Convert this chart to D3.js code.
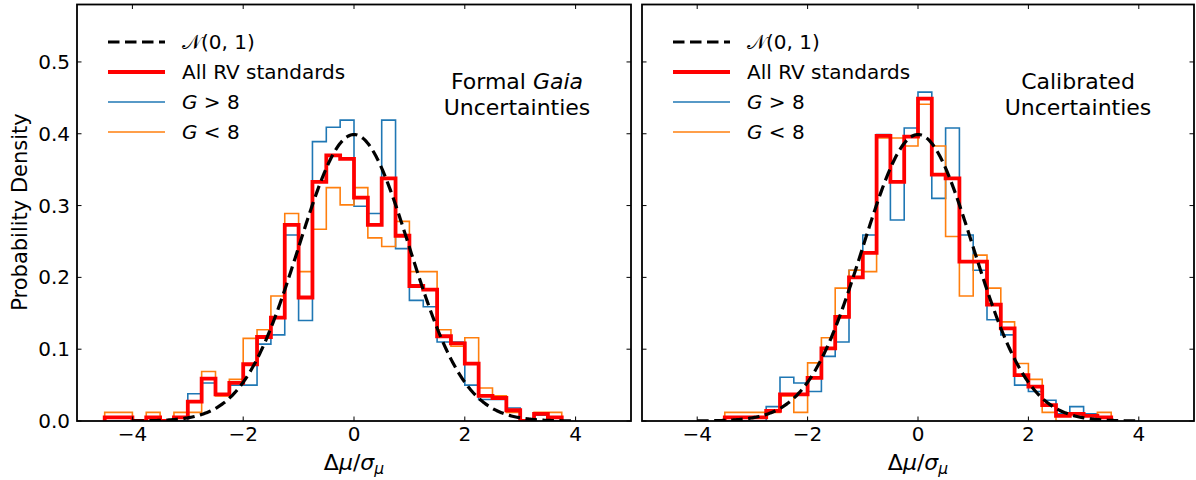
<!DOCTYPE html>
<html>
<head>
<meta charset="utf-8">
<script src="https://cdn.jsdelivr.net/npm/d3@7/dist/d3.min.js"></script>
<style>
  html, body { margin: 0; padding: 0; background: #fff; }
  svg { display: block; font-family: "DejaVu Sans", sans-serif; }
</style>
</head>
<body>
<svg id="chart" width="1196" height="480"></svg>
<script>
// Histogram bins are 0.25 wide; each panel lists its first bin edge.
const binWidth = 0.25;
const leftFirstEdge = -4.5;
const rightFirstEdge = -3.5;

// Formal Gaia uncertainties (probability density per bin)
const leftAll = [0.005, 0.005, 0, 0.005, 0, 0.005, 0.027, 0.059, 0.037, 0.053,
  0.079, 0.117, 0.144, 0.273, 0.172, 0.333, 0.370, 0.365, 0.311, 0.273,
  0.338, 0.258, 0.188, 0.183, 0.118, 0.108, 0.080, 0.035, 0.032, 0.015,
  0, 0.010, 0.005];
const leftFaint = [0, 0, 0, 0, 0, 0, 0.038, 0.053, 0.038, 0.050,
  0.050, 0.107, 0.120, 0.259, 0.140, 0.389, 0.409, 0.419, 0.299, 0.289,
  0.419, 0.240, 0.168, 0.159, 0.110, 0.110, 0.050, 0.030, 0.030, 0.018,
  0, 0.008, 0];
const leftBright = [0.012, 0.012, 0, 0.012, 0, 0.012, 0.012, 0.069, 0.035, 0.058,
  0.115, 0.127, 0.174, 0.289, 0.208, 0.267, 0.325, 0.301, 0.325, 0.255,
  0.243, 0.278, 0.208, 0.208, 0.127, 0.104, 0.116, 0.046, 0.035, 0.012,
  0, 0.012, 0.012];

// Calibrated uncertainties
const rightAll = [0.005, 0.005, 0.005, 0.014, 0.037, 0.037, 0.060, 0.101, 0.145, 0.200,
  0.234, 0.397, 0.333, 0.396, 0.449, 0.343, 0.338, 0.222, 0.222, 0.162,
  0.129, 0.064, 0.048, 0.022, 0.007, 0.010, 0.007, 0.005];
const rightFaint = [0, 0, 0, 0.020, 0.061, 0.053, 0.041, 0.090, 0.110, 0.210,
  0.259, 0.399, 0.280, 0.408, 0.458, 0.310, 0.408, 0.259, 0.210, 0.141,
  0.120, 0.050, 0.041, 0.029, 0.010, 0.020, 0.010, 0];
const rightBright = [0.012, 0.012, 0.012, 0.012, 0.035, 0.012, 0.081, 0.116, 0.185, 0.210,
  0.208, 0.394, 0.394, 0.383, 0.441, 0.383, 0.257, 0.174, 0.231, 0.185,
  0.138, 0.080, 0.058, 0.012, 0, 0, 0, 0.012];

const xTicks = [-4, -2, 0, 2, 4];
const yTicks = [0, 0.1, 0.2, 0.3, 0.4, 0.5];

const colors = { all: "#ff0000", faint: "#1f77b4", bright: "#ff7f0e", normal: "#000000" };

const svg = d3.select("#chart");
svg.append("rect").attr("width", 1196).attr("height", 480).attr("fill", "#fff");

const plotTop = 4.5, plotBottom = 421;
const panels = [
  { left: 77, right: 631, first: leftFirstEdge, all: leftAll, faint: leftFaint, bright: leftBright,
    yLabels: true, note: ["Formal ", "Gaia", "Uncertainties"], noteX: 517 },
  { left: 642, right: 1194, first: rightFirstEdge, all: rightAll, faint: rightFaint, bright: rightBright,
    yLabels: false, note: ["Calibrated", "", "Uncertainties"], noteX: 1078 }
];

function stepPoints(first, values) {
  const pts = [[first, 0]];
  values.forEach((v, i) => {
    const a = first + i * binWidth, b = a + binWidth;
    pts.push([a, v], [b, v]);
  });
  pts.push([first + values.length * binWidth, 0]);
  return pts;
}

const gaussX = d3.range(0, 401).map(i => -4 + i * 0.02);
const gauss = gaussX.map(x => [x, Math.exp(-x * x / 2) / Math.sqrt(2 * Math.PI)]);

panels.forEach((p, k) => {
  const x = d3.scaleLinear().domain([-5, 5]).range([p.left, p.right]);
  const y = d3.scaleLinear().domain([0, 0.58]).range([plotBottom, plotTop]);
  const g = svg.append("g");
  const clipId = "clip" + k;
  svg.append("clipPath").attr("id", clipId).append("rect")
    .attr("x", p.left).attr("y", plotTop).attr("width", p.right - p.left).attr("height", plotBottom - plotTop);

  const line = d3.line().x(d => x(d[0])).y(d => y(d[1]));
  const plot = g.append("g").attr("clip-path", `url(#${clipId})`);

  plot.append("path").attr("d", line(stepPoints(p.first, p.faint)))
    .attr("fill", "none").attr("stroke", colors.faint).attr("stroke-width", 1.6);
  plot.append("path").attr("d", line(stepPoints(p.first, p.bright)))
    .attr("fill", "none").attr("stroke", colors.bright).attr("stroke-width", 1.6);
  plot.append("path").attr("d", line(stepPoints(p.first, p.all)))
    .attr("fill", "none").attr("stroke", colors.all).attr("stroke-width", 3.8)
    .attr("stroke-linejoin", "miter");
  plot.append("path").attr("d", line(gauss))
    .attr("fill", "none").attr("stroke", colors.normal).attr("stroke-width", 3.2)
    .attr("stroke-dasharray", "11.5,5.5");

  // inward ticks on all four sides
  const tl = 4.5;
  xTicks.forEach(t => {
    g.append("line").attr("x1", x(t)).attr("x2", x(t)).attr("y1", plotBottom).attr("y2", plotBottom - tl)
      .attr("stroke", "#000").attr("stroke-width", 1);
    g.append("line").attr("x1", x(t)).attr("x2", x(t)).attr("y1", plotTop).attr("y2", plotTop + tl)
      .attr("stroke", "#000").attr("stroke-width", 1);
    g.append("text").attr("x", x(t)).attr("y", 441).attr("text-anchor", "middle")
      .attr("font-size", 20).text(d3.format("")(t).replace("-", "\u2212"));
  });
  yTicks.forEach(t => {
    g.append("line").attr("x1", p.left).attr("x2", p.left + tl).attr("y1", y(t)).attr("y2", y(t))
      .attr("stroke", "#000").attr("stroke-width", 1);
    g.append("line").attr("x1", p.right).attr("x2", p.right - tl).attr("y1", y(t)).attr("y2", y(t))
      .attr("stroke", "#000").attr("stroke-width", 1);
    if (p.yLabels) {
      g.append("text").attr("x", p.left - 7).attr("y", y(t) + 7).attr("text-anchor", "end")
        .attr("font-size", 20).text(d3.format(".1f")(t));
    }
  });

  // frame
  g.append("rect").attr("x", p.left).attr("y", plotTop).attr("width", p.right - p.left)
    .attr("height", plotBottom - plotTop).attr("fill", "none").attr("stroke", "#000").attr("stroke-width", 1.8);

  // x axis label
  const xl = g.append("text").attr("x", (p.left + p.right) / 2).attr("y", 470)
    .attr("text-anchor", "middle").attr("font-size", 22);
  xl.append("tspan").text("\u0394");
  xl.append("tspan").attr("font-style", "italic").text("\u03bc");
  xl.append("tspan").text("/");
  xl.append("tspan").attr("font-style", "italic").text("\u03c3");
  xl.append("tspan").attr("font-style", "italic").attr("font-size", 15.5).attr("dy", 4).text("\u03bc");

  // legend
  const lx = p.left + 31, ly = 42, gap = 30;
  const entries = [
    { key: "normal", w: 3.2, dash: "11.5,5.5" },
    { key: "all", w: 3.8 },
    { key: "faint", w: 1.6 },
    { key: "bright", w: 1.6 }
  ];
  entries.forEach((e, i) => {
    const yy = ly + i * gap;
    g.append("line").attr("x1", lx).attr("x2", lx + 57).attr("y1", yy).attr("y2", yy)
      .attr("stroke", colors[e.key]).attr("stroke-width", e.w)
      .attr("stroke-dasharray", e.dash || null);
    const t = g.append("text").attr("x", lx + 74).attr("y", yy + 7).attr("font-size", 20);
    if (e.key === "normal") {
      t.append("tspan").text("\ud835\udca9");
      t.append("tspan").text("(0, 1)");
    } else if (e.key === "all") {
      t.text("All RV standards");
    } else {
      t.append("tspan").attr("font-style", "italic").text("G");
      t.append("tspan").text(e.key === "faint" ? " > 8" : " < 8");
    }
  });

  // panel note
  const n1 = g.append("text").attr("x", p.noteX).attr("y", 89).attr("text-anchor", "middle").attr("font-size", 22);
  n1.append("tspan").text(p.note[0]);
  if (p.note[1]) n1.append("tspan").attr("font-style", "italic").text(p.note[1]);
  g.append("text").attr("x", p.noteX).attr("y", 115).attr("text-anchor", "middle").attr("font-size", 22)
    .text(p.note[2]);
});

// y axis label
svg.append("text").attr("transform", "translate(27,212) rotate(-90)")
  .attr("text-anchor", "middle").attr("font-size", 21).text("Probability Density");
</script>
</body>
</html>
